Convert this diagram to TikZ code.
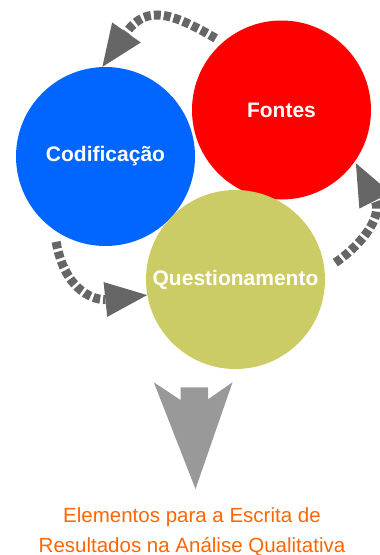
\documentclass[tikz,border=0pt]{standalone}
\usepackage{fontspec}
\setmainfont{Liberation Sans}
\usetikzlibrary{arrows.meta}
\definecolor{azul}{RGB}{0,102,255}
\definecolor{vermelho}{RGB}{255,0,0}
\definecolor{oliva}{RGB}{204,204,102}
\definecolor{cinza}{RGB}{102,102,102}
\definecolor{cinzaclaro}{RGB}{153,153,153}
\definecolor{laranja}{RGB}{255,102,0}
\begin{document}
\begin{tikzpicture}[x=1pt,y=1pt,
    circulo/.style={circle,minimum size=179pt,inner sep=0pt,text=white,
      font=\fontsize{21}{25}\selectfont\bfseries},
    ciclo/.style={draw=cinza,line width=9pt,dash pattern=on 7pt off 3pt,
      -{Triangle[length=42pt,width=35pt,line width=0pt]}},
  ]
\useasboundingbox (0,0) rectangle (380,-555);
\clip (0,0) rectangle (380,-555);
\node[circulo,fill=azul] (codificacao) at (105.5,-156.5) {Codificação};
\node[circulo,fill=vermelho] (fontes) at (281.5,-110) {Fontes};
\node[circulo,fill=oliva] (questionamento) at (235.5,-279.5) {Questionamento};
\node[anchor=north,inner sep=0pt,align=center,text=laranja,
  font=\fontsize{20.5}{30}\selectfont] (escrita) at (192,-507.5)
  {Elementos para a Escrita de\\Resultados na Análise Qualitativa};

\draw[ciclo,shorten <=8pt] (fontes.131)
  to[out=150,in=55,out distance=55pt,in distance=78pt] (codificacao.92);
\draw[ciclo,shorten <=12pt] (codificacao.235)
  to[out=280,in=186,out distance=65pt,in distance=50pt] (questionamento.190);
\draw[ciclo,shorten <=13pt,shorten >=2pt] (questionamento.6)
  to[out=35,in=297,out distance=50pt,in distance=60pt] (fontes.325);

\coordinate (ponta) at ([shift={(3.5,18.5)}]escrita.north);
\fill[cinzaclaro] (ponta) -- ++(-41.7,106.7) -- ++(26.7,-17.7) -- ++(0,12.7)
  -- ++(27.6,0) -- ++(0,-12) -- ++(24.4,17) -- cycle;
\end{tikzpicture}
\end{document}
